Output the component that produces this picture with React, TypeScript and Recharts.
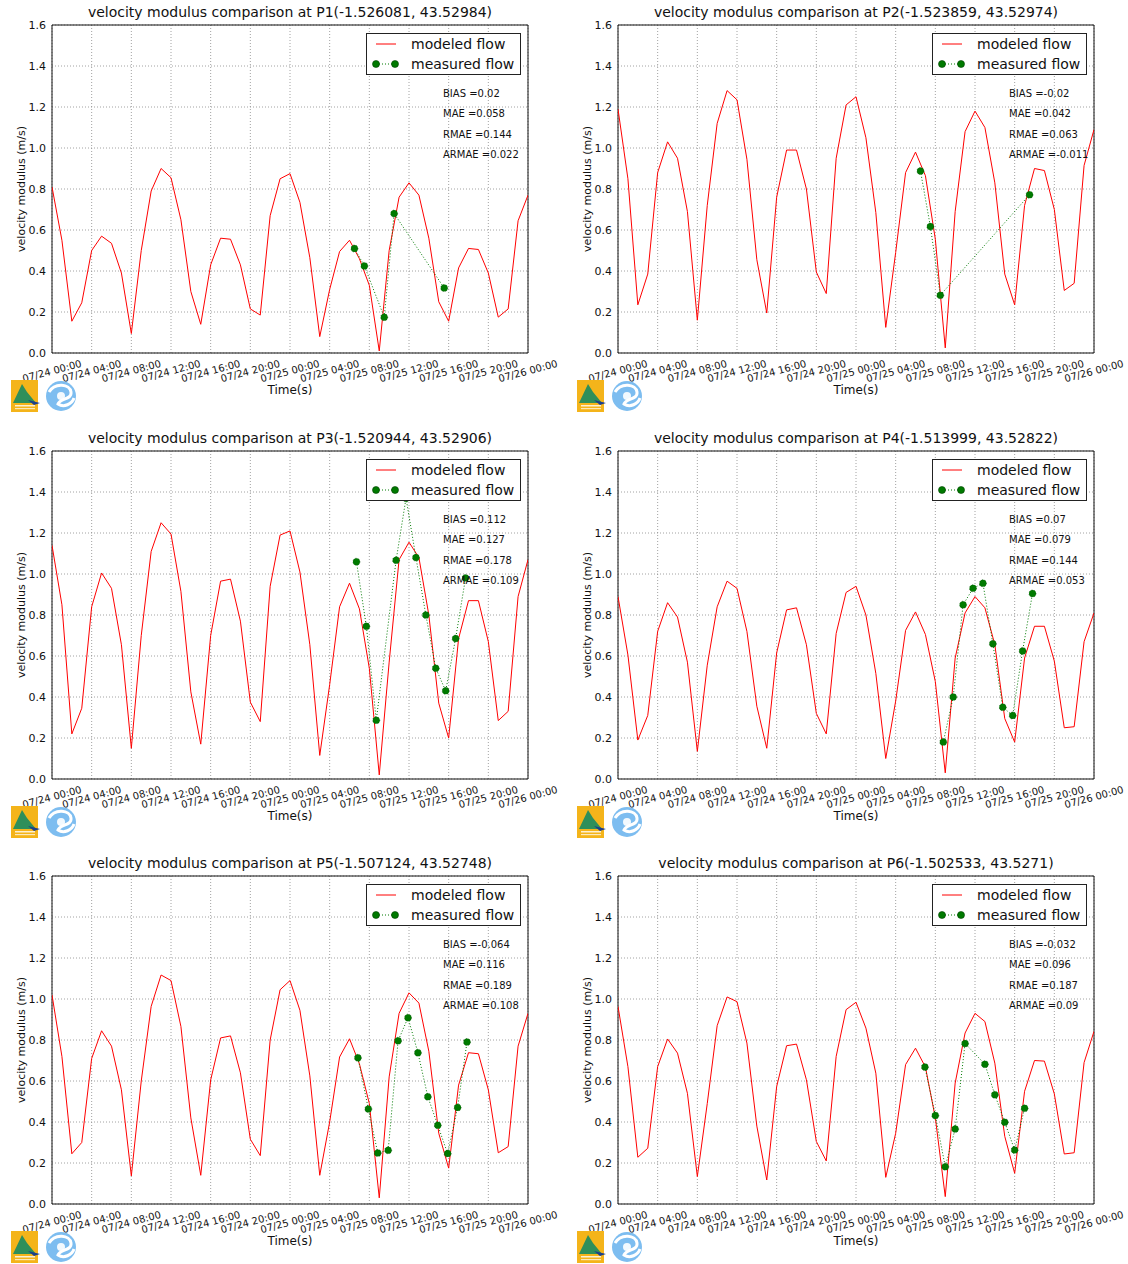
import React from 'react';
import { LineChart, Line, XAxis, YAxis, CartesianGrid, ReferenceArea, Legend } from 'recharts';

const FONT = '"DejaVu Sans", "Liberation Sans", sans-serif';

// ---------- data ----------
const modelHours = [0, 1, 2, 3, 4, 5, 6, 7, 8, 9, 10, 11, 12, 13, 14, 15, 16, 17, 18, 19, 20, 21, 22, 23, 24,
  25, 26, 27, 28, 29, 30, 31, 32, 33, 34, 35, 36, 37, 38, 39, 40, 41, 42, 43, 44, 45, 46, 47, 48];

const xTicks = [0, 4, 8, 12, 16, 20, 24, 28, 32, 36, 40, 44, 48];
const xTickLabels = ['07/24 00:00', '07/24 04:00', '07/24 08:00', '07/24 12:00', '07/24 16:00', '07/24 20:00',
  '07/25 00:00', '07/25 04:00', '07/25 08:00', '07/25 12:00', '07/25 16:00', '07/25 20:00', '07/26 00:00'];
const yTicks = [0, 0.2, 0.4, 0.6, 0.8, 1.0, 1.2, 1.4, 1.6];

const seriesNames = ['modeled flow', 'measured flow'];
const pointNames = ['P1(-1.526081, 43.52984)', 'P2(-1.523859, 43.52974)', 'P3(-1.520944, 43.52906)',
  'P4(-1.513999, 43.52822)', 'P5(-1.507124, 43.52748)', 'P6(-1.502533, 43.5271)'];
const biasValues = ['0.02', '-0.02', '0.112', '0.07', '-0.064', '-0.032'];
const maeValues = ['0.058', '0.042', '0.127', '0.079', '0.116', '0.096'];
const rmaeValues = ['0.144', '0.063', '0.178', '0.144', '0.189', '0.187'];
const armaeValues = ['0.022', '-0.011', '0.109', '0.053', '0.108', '0.09'];

const p1Modeled = [0.81, 0.55, 0.155, 0.245, 0.50, 0.57, 0.535, 0.39, 0.095, 0.50, 0.79, 0.90, 0.855, 0.65, 0.30, 0.14,
  0.43, 0.56, 0.555, 0.43, 0.215, 0.185, 0.67, 0.85, 0.875, 0.735, 0.465, 0.08, 0.31, 0.495, 0.55, 0.46, 0.33, 0.01,
  0.50, 0.76, 0.83, 0.77, 0.56, 0.25, 0.155, 0.415, 0.51, 0.505, 0.39, 0.175, 0.215, 0.645, 0.77];
const p1MeasuredHours = [30.5, 31.5, 33.5, 34.5, 39.55];
const p1Measured = [0.51, 0.425, 0.175, 0.68, 0.317];

const p2Modeled = [1.19, 0.85, 0.235, 0.385, 0.88, 1.03, 0.95, 0.69, 0.16, 0.72, 1.12, 1.28, 1.235, 0.945, 0.455, 0.195,
  0.76, 0.99, 0.99, 0.80, 0.395, 0.29, 0.95, 1.21, 1.25, 1.05, 0.685, 0.125, 0.49, 0.88, 0.98, 0.865, 0.555, 0.025,
  0.69, 1.08, 1.18, 1.10, 0.83, 0.385, 0.235, 0.72, 0.90, 0.89, 0.70, 0.305, 0.34, 0.915, 1.09];
const p2MeasuredHours = [30.5, 31.5, 32.5, 41.5];
const p2Measured = [0.888, 0.617, 0.282, 0.772];

const p3Modeled = [1.14, 0.85, 0.22, 0.345, 0.84, 1.005, 0.93, 0.655, 0.15, 0.70, 1.11, 1.25, 1.195, 0.915, 0.425, 0.17,
  0.70, 0.965, 0.975, 0.77, 0.375, 0.28, 0.94, 1.19, 1.21, 1.01, 0.655, 0.115, 0.46, 0.84, 0.955, 0.83, 0.54, 0.02,
  0.57, 1.07, 1.155, 1.08, 0.80, 0.37, 0.20, 0.685, 0.87, 0.87, 0.67, 0.285, 0.33, 0.89, 1.07];
const p3MeasuredHours = [30.7, 31.7, 32.7, 34.7, 35.7, 36.7, 37.7, 38.7, 39.7, 40.7, 41.7];
const p3Measured = [1.06, 0.745, 0.287, 1.067, 1.37, 1.08, 0.80, 0.54, 0.43, 0.685, 0.98];

const p4Modeled = [0.89, 0.605, 0.19, 0.31, 0.72, 0.86, 0.79, 0.57, 0.135, 0.555, 0.84, 0.965, 0.93, 0.72, 0.355, 0.15,
  0.615, 0.825, 0.835, 0.655, 0.32, 0.22, 0.71, 0.91, 0.94, 0.80, 0.515, 0.10, 0.38, 0.725, 0.815, 0.705, 0.475, 0.03,
  0.59, 0.81, 0.89, 0.835, 0.655, 0.295, 0.18, 0.59, 0.745, 0.745, 0.575, 0.25, 0.255, 0.67, 0.81];
const p4MeasuredHours = [32.8, 33.8, 34.8, 35.8, 36.8, 37.8, 38.8, 39.8, 40.8, 41.8];
const p4Measured = [0.18, 0.40, 0.85, 0.93, 0.955, 0.66, 0.35, 0.31, 0.625, 0.905];

const p5Modeled = [1.02, 0.72, 0.245, 0.30, 0.71, 0.845, 0.77, 0.557, 0.137, 0.60, 0.964, 1.117, 1.09, 0.866, 0.42, 0.14,
  0.605, 0.81, 0.82, 0.64, 0.316, 0.236, 0.80, 1.045, 1.09, 0.945, 0.625, 0.14, 0.40, 0.717, 0.806, 0.684, 0.49, 0.03,
  0.62, 0.93, 1.03, 0.98, 0.745, 0.345, 0.175, 0.58, 0.738, 0.733, 0.557, 0.25, 0.28, 0.77, 0.93];
const p5MeasuredHours = [30.85, 31.9, 32.85, 33.9, 34.9, 35.9, 36.9, 37.9, 38.9, 39.9, 40.9, 41.85];
const p5Measured = [0.713, 0.464, 0.249, 0.262, 0.796, 0.909, 0.738, 0.523, 0.384, 0.246, 0.471, 0.79];

const p6Modeled = [0.964, 0.67, 0.228, 0.272, 0.67, 0.805, 0.736, 0.54, 0.134, 0.49, 0.87, 1.01, 0.987, 0.785, 0.38, 0.117,
  0.573, 0.772, 0.78, 0.606, 0.305, 0.21, 0.72, 0.948, 0.984, 0.858, 0.638, 0.13, 0.345, 0.68, 0.76, 0.668, 0.42, 0.036,
  0.59, 0.834, 0.93, 0.89, 0.687, 0.33, 0.15, 0.55, 0.70, 0.697, 0.537, 0.244, 0.25, 0.69, 0.842];
const p6MeasuredHours = [30.95, 32, 33, 34, 35, 37, 38, 39, 40, 41];
const p6Measured = [0.668, 0.432, 0.182, 0.366, 0.783, 0.682, 0.533, 0.399, 0.263, 0.467];

const modeledSets = [p1Modeled, p2Modeled, p3Modeled, p4Modeled, p5Modeled, p6Modeled];
const measuredHourSets = [p1MeasuredHours, p2MeasuredHours, p3MeasuredHours, p4MeasuredHours, p5MeasuredHours, p6MeasuredHours];
const measuredSets = [p1Measured, p2Measured, p3Measured, p4Measured, p5Measured, p6Measured];

// ---------- layout ----------
const CHART_W = 560;
const CHART_H = 413;
const M_TOP = 25;
const M_RIGHT = 32;
const Y_W = 52;
const X_H = 60;
const PLOT_W = CHART_W - Y_W - M_RIGHT;
const PLOT_H = CHART_H - M_TOP - X_H;
const PLOT_BOTTOM = M_TOP + PLOT_H;
const PLOT_CX = Y_W + PLOT_W / 2;
const colLefts = [0, 566];
const rowTops = [0, 426, 851];

const RED = '#ff0000';
const GREEN = '#007a00';

const XTick = (props: any) => {
  const { x, payload } = props;
  const idx = xTicks.indexOf(payload.value);
  const cy = PLOT_BOTTOM + 18;
  return (
    <text x={x} y={cy} transform={`rotate(-15 ${x} ${cy})`} textAnchor="middle" dominantBaseline="central"
      fontSize={10} fill="#111" fontFamily={FONT}>
      {idx >= 0 ? xTickLabels[idx] : ''}
    </text>
  );
};

const LegendBox = () => (
  <svg width={155} height={42} style={{ display: 'block' }}>
    <rect x={0.5} y={0.5} width={154} height={41} fill="#fff" stroke="#222" strokeWidth={1} />
    <line x1={10} y1={11} x2={30} y2={11} stroke={RED} strokeWidth={1} />
    <text x={45} y={16} fontSize={14} fontFamily={FONT} fill="#111">{seriesNames[0]}</text>
    <line x1={10} y1={31} x2={29} y2={31} stroke={GREEN} strokeWidth={1} strokeDasharray="1 2" />
    <circle cx={10} cy={31} r={3.5} fill={GREEN} stroke="#004000" strokeWidth={0.6} />
    <circle cx={29} cy={31} r={3.5} fill={GREEN} stroke="#004000" strokeWidth={0.6} />
    <text x={45} y={36} fontSize={14} fontFamily={FONT} fill="#111">{seriesNames[1]}</text>
  </svg>
);

const Logos = () => (
  <g>
    <rect x={11} y={380} width={27} height={32} fill="#f4b41a" />
    <polygon points="13,403 22,384 27,392 36,403" fill="#2f8f5a" />
    <polygon points="28,400 40,403 34,405" fill="#1d3f8a" />
    <rect x={15} y={405} width={20} height={1.5} fill="#fff" opacity={0.8} />
    <rect x={15} y={408} width={20} height={1.2} fill="#fff" opacity={0.7} />
    <circle cx={61} cy={396} r={15} fill="#7dbdf0" />
    <path d="M 49 392 C 55 382, 70 384, 71 392 C 72 400, 60 398, 58 404 C 64 408, 72 404, 74 398" fill="none" stroke="#fff" strokeWidth={3} />
    <circle cx={61} cy={396} r={4} fill="#fff" opacity={0.9} />
  </g>
);

const Panel = ({ idx }: { idx: number }) => {
  const modeled = modeledSets[idx].map((v, i) => ({ t: modelHours[i], v }));
  const measured = measuredSets[idx].map((v, i) => ({ t: measuredHourSets[idx][i], v }));
  const left = colLefts[idx % 2];
  const top = rowTops[Math.floor(idx / 2)];
  const stats = [
    `BIAS =${biasValues[idx]}`,
    `MAE =${maeValues[idx]}`,
    `RMAE =${rmaeValues[idx]}`,
    `ARMAE =${armaeValues[idx]}`,
  ];
  return (
    <div style={{ position: 'absolute', left, top, width: CHART_W, height: CHART_H }}>
      <LineChart width={CHART_W} height={CHART_H} margin={{ top: M_TOP, right: M_RIGHT, left: 0, bottom: 0 }}>
        <CartesianGrid stroke="#8a8a8a" strokeDasharray="1 2" strokeWidth={0.8} />
        <XAxis type="number" dataKey="t" domain={[0, 48]} ticks={xTicks} interval={0} allowDataOverflow
          height={X_H} tickLine={false} axisLine={false} tick={(p: any) => <XTick {...p} />} />
        <YAxis type="number" domain={[0, 1.6]} ticks={yTicks} interval={0} allowDataOverflow width={Y_W}
          tickLine={false} axisLine={false} tickSize={4} tickMargin={2}
          tickFormatter={(v: number) => v.toFixed(1)}
          tick={{ fontSize: 11, fill: '#111', fontFamily: FONT }} />
        <Line data={modeled} dataKey="v" type="linear" stroke={RED} strokeWidth={1} dot={false}
          isAnimationActive={false} name={seriesNames[0]} />
        <Line data={measured} dataKey="v" type="linear" stroke={GREEN} strokeWidth={1} strokeDasharray="1 2"
          dot={{ r: 3.5, fill: GREEN, stroke: '#004000', strokeWidth: 0.6 }} isAnimationActive={false}
          name={seriesNames[1]} />
        <ReferenceArea x1={0} x2={48} y1={0} y2={1.6} fill="none" fillOpacity={0} stroke="#111" strokeWidth={1} />
        <Legend verticalAlign="middle" align="center" layout="horizontal"
          wrapperStyle={{ position: 'absolute', left: 366, top: 33, width: 155, height: 42 }}
          content={() => <LegendBox />} />
      </LineChart>
      <svg width={CHART_W} height={425} style={{ position: 'absolute', left: 0, top: 0, pointerEvents: 'none', overflow: 'visible' }}>
        <text x={PLOT_CX} y={17} textAnchor="middle" fontSize={14} fontFamily={FONT} fill="#111">
          {`velocity modulus comparison at ${pointNames[idx]}`}
        </text>
        <text x={21} y={M_TOP + PLOT_H / 2} transform={`rotate(-90 21 ${M_TOP + PLOT_H / 2})`} textAnchor="middle"
          dominantBaseline="central" fontSize={11} fontFamily={FONT} fill="#111">velocity modulus (m/s)</text>
        <text x={PLOT_CX} y={394} textAnchor="middle" fontSize={12} fontFamily={FONT} fill="#111">Time(s)</text>
        {stats.map((s, i) => (
          <text key={i} x={443} y={97 + i * 20.4} fontSize={10} fontFamily={FONT} fill="#111">{s}</text>
        ))}
        <Logos />
      </svg>
    </div>
  );
};

export default function App() {
  return (
    <div style={{ position: 'absolute', left: 0, top: 0, width: 1128, height: 1264, background: '#fff', overflow: 'hidden' }}>
      {[0, 1, 2, 3, 4, 5].map((i) => <Panel key={i} idx={i} />)}
    </div>
  );
}
